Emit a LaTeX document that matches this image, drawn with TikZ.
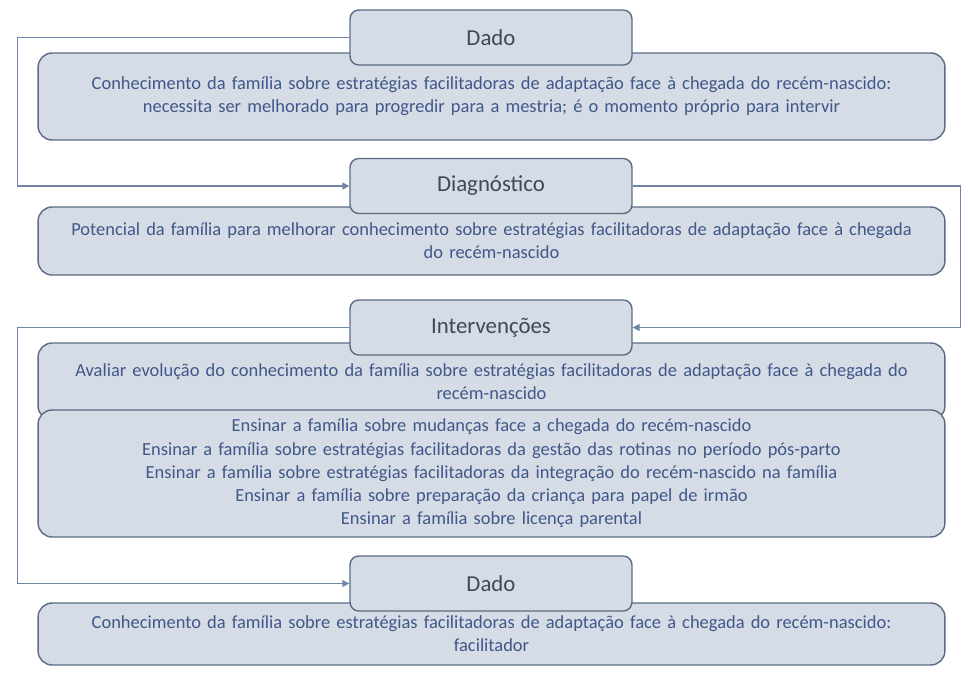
\documentclass[tikz,border=0pt]{standalone}
\usepackage{fontspec}
\setmainfont{Carlito}
\usetikzlibrary{arrows.meta}
\definecolor{boxfill}{HTML}{D6DCE5}
\definecolor{boxline}{HTML}{5A6B85}
\definecolor{bodytext}{HTML}{40578A}
\definecolor{headtext}{HTML}{404855}
\definecolor{linecol}{HTML}{6F85A8}

\begin{document}
\begin{tikzpicture}[x=.02cm, y=-.02cm, font=\fontsize{10.5}{13.2}\selectfont,
  caixa/.style={draw=boxline, fill=boxfill, rounded corners=8pt, line width=.8pt,
    minimum width=18.14cm, text width=17.6cm, align=center, text=bodytext},
  titulo/.style={draw=boxline, fill=boxfill, rounded corners=5pt, line width=.8pt,
    minimum width=5.64cm, minimum height=1.1cm, font=\fontsize{13}{15}\selectfont, text=headtext},
  seta/.style={draw=linecol, line width=.8pt, -{Triangle[length=4pt,width=4pt]}}]

\useasboundingbox (0,0) rectangle (968,677);

\node[caixa, minimum height=1.74cm] (C1) at (491.5,96.5) {Conhecimento da família sobre estratégias facilitadoras de adaptação face à chegada do recém-nascido:\\necessita ser melhorado para progredir para a mestria; é o momento próprio para intervir};
\node[titulo] (D1) at (491,37.5) {Dado};

\node[caixa, minimum height=1.36cm] (P) at (491.5,241) {Potencial da família para melhorar conhecimento sobre estratégias facilitadoras de adaptação face à chegada\\do recém-nascido};
\node[titulo] (DG) at (491,186) {Diagnóstico};

\node[caixa, minimum height=1.54cm] (AV) at (491.5,381.5) {Avaliar evolução do conhecimento da família sobre estratégias facilitadoras de adaptação face à chegada do\\recém-nascido};
\node[caixa, minimum height=2.54cm] (EN) at (491.5,473.5) {Ensinar a família sobre mudanças face a chegada do recém-nascido\\
Ensinar a família sobre estratégias facilitadoras da gestão das rotinas no período pós-parto\\
Ensinar a família sobre estratégias facilitadoras da integração do recém-nascido na família\\
Ensinar a família sobre preparação da criança para papel de irmão\\
Ensinar a família sobre licença parental};
\node[titulo] (IV) at (491,327.5) {Intervenções};

\node[caixa, minimum height=1.24cm] (C2) at (491.5,634) {Conhecimento da família sobre estratégias facilitadoras de adaptação face à chegada do recém-nascido:\\facilitador};
\node[titulo] (D2) at (491,583.5) {Dado};

\draw[seta] (D1.west) -- ++(-332,0) |- (DG.west);
\draw[seta] (DG.east) -- ++(328,0) |- (IV.east);
\draw[seta] (IV.west) -- ++(-332,0) |- (D2.west);

\end{tikzpicture}
\end{document}
